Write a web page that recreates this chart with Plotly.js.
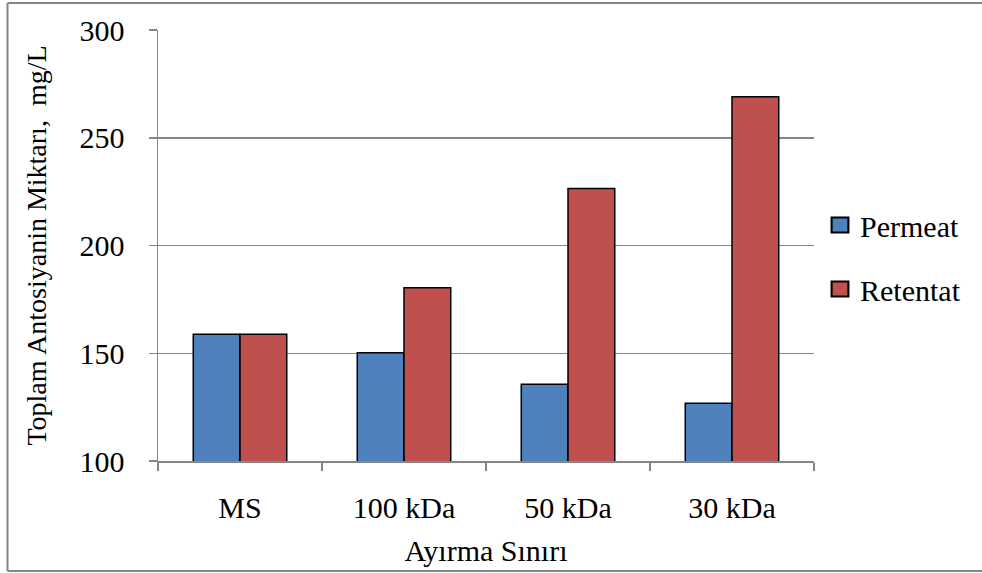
<!DOCTYPE html>
<html>
<head>
<meta charset="utf-8">
<script src="https://cdn.plot.ly/plotly-3.0.1.min.js"></script>
<style>html,body{margin:0;padding:0;background:#fff;}#chart{width:982px;height:573px;}</style>
</head>
<body>
<div id="chart"></div>
<script>
const categories = ["MS", "100 kDa", "50 kDa", "30 kDa"];
const permeat = [158.8, 150.2, 135.6, 126.8];
const retentat = [158.8, 180.4, 226.5, 269.0];
const yTicks = [100, 150, 200, 250, 300];

const font = "Liberation Serif";

const traces = [
  {type: "bar", name: "Permeat", x: categories, y: permeat, legendgroup: "a",
   marker: {color: "#4F81BD", line: {color: "#000", width: 1.5}}},
  {type: "bar", name: "Retentat", x: categories, y: retentat, legendgroup: "b",
   marker: {color: "#C0504D", line: {color: "#000", width: 1.5}}}
];

const L = 158, R = 814, T = 30, B = 461, W = 982, H = 573;
const px = v => (v - L) / (R - L);
const py = v => (B - v) / (B - T);
const grey = "#868686";

const layout = {
  width: W, height: H,
  margin: {l: L, r: W - R, t: T, b: H - B, pad: 0},
  paper_bgcolor: "#fff", plot_bgcolor: "#fff",
  font: {family: font, size: 28, color: "#000"},
  bargap: 0.43, bargroupgap: 0,
  showlegend: true,
  legend: {x: px(820), y: py(199), xanchor: "left", yanchor: "top",
           font: {family: font, size: 30, color: "#000"},
           traceorder: "grouped", tracegroupgap: 22, bgcolor: "rgba(0,0,0,0)"},
  xaxis: {
    type: "category", tickson: "boundaries", ticks: "outside", ticklen: 8,
    tickcolor: grey, tickwidth: 1.5, ticklabelstandoff: 19,
    showline: true, linecolor: grey, linewidth: 1.5,
    showgrid: false, tickfont: {family: font, size: 30},
    title: {text: "Ayırma Sınırı", font: {family: font, size: 30}, standoff: 17},
    fixedrange: true
  },
  yaxis: {
    range: [100, 300], tickvals: yTicks, ticktext: yTicks.map(String),
    ticks: "outside", ticklen: 8, tickcolor: grey, tickwidth: 1.5, ticklabelstandoff: 18,
    showline: true, linecolor: grey, linewidth: 1.5,
    showgrid: true, gridcolor: grey, gridwidth: 1.5,
    zeroline: false, tickfont: {family: font, size: 30},
    title: {text: "Toplam Antosiyanin Miktarı,  mg/L", font: {family: font, size: 28}, standoff: 24},
    fixedrange: true
  },
  shapes: [
    {type: "line", xref: "paper", yref: "paper", x0: px(7.5), x1: px(7.5), y0: py(571), y1: py(3),
     line: {color: grey, width: 2}, layer: "below"},
    {type: "line", xref: "paper", yref: "paper", x0: px(7.5), x1: px(990), y0: py(3), y1: py(3),
     line: {color: grey, width: 2}, layer: "below"},
    {type: "line", xref: "paper", yref: "paper", x0: px(7.5), x1: px(990), y0: py(571), y1: py(571),
     line: {color: grey, width: 2}, layer: "below"}
  ]
};

Plotly.newPlot("chart", traces, layout, {displayModeBar: false, staticPlot: true}).then(gd => {
  gd.querySelectorAll(".legendpoints path").forEach(p => {
    const t = p.getAttribute("transform") || "";
    p.setAttribute("transform", t + " scale(1.4,1.25)");
    p.style.strokeWidth = "1.5px";
  });
});
</script>
</body>
</html>
